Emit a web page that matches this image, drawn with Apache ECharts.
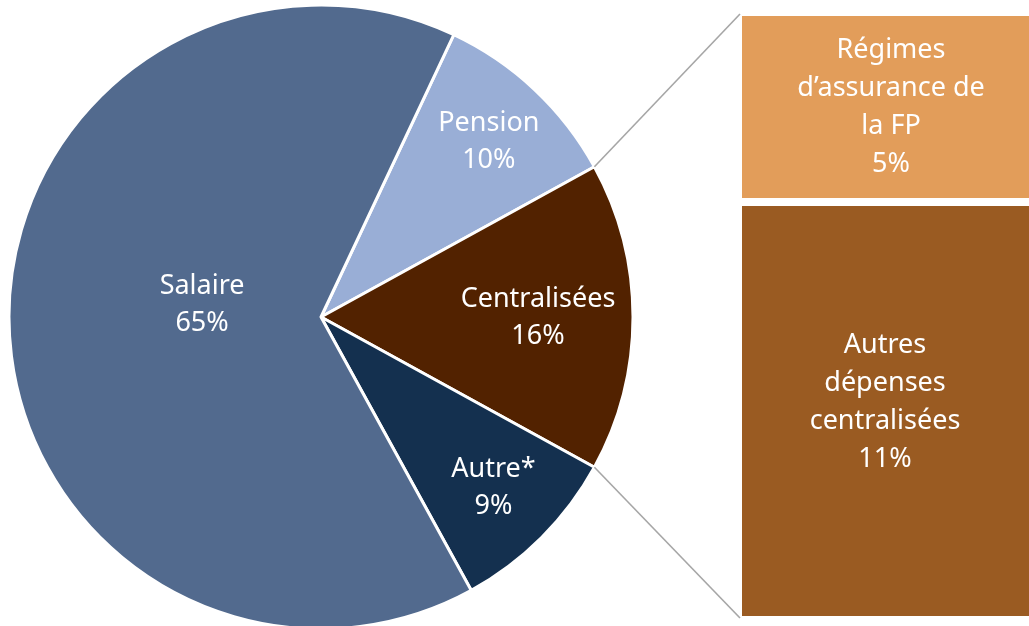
<!DOCTYPE html>
<html><head><meta charset="utf-8">
<script src="https://cdn.jsdelivr.net/npm/echarts@6/dist/echarts.min.js"></script>
<style>html,body{margin:0;padding:0;background:#fff}#c{width:1029px;height:626px}</style>
</head><body><div id="c"></div>
<script>
// ---- data ----
const pieNames = ['Pension', 'Centralisées', 'Autre*', 'Salaire'];
const pieValues = [10, 16, 9, 65];
const barNames = ['Régimes\nd’assurance de\nla FP', 'Autres\ndépenses\ncentralisées'];
const barValues = [5, 11];

// ---- style / layout ----
const pieColors = ['#99AED6', '#522200', '#14304F', '#526A8E'];
const barColors = ['#E29D5A', '#9A5B22'];
const labelOffsets = [[59, -59], [58, 1], [60, 58], [40, -17]];
const barLabelOffsets = [[1, 0], [-5, -9]];
const FONT = '"Noto Sans", "Open Sans", sans-serif';
const FS = 27, LH = 37;
const CX = 321, CY = 317, R = 312;
const GAP = 2; // half of white separator
const GRID = {left: 738, top: 12, right: -13, bottom: 6};

const total = pieValues.reduce((a, b) => a + b, 0);
const expIdx = 1; // exploded slice (Centralisées)
const before = pieValues.slice(0, expIdx).reduce((a, b) => a + b, 0);
const startAngle = (before + pieValues[expIdx] / 2) / total * 360;
const topAng = (startAngle - before / total * 360) * Math.PI / 180;
const botAng = (startAngle - (before + pieValues[expIdx]) / total * 360) * Math.PI / 180;

const chart = echarts.init(document.getElementById('c'), null, {renderer: 'canvas'});
const H = 626;
const barLeft = GRID.left + GAP, barTop = GRID.top + GAP, barBottom = H - GRID.bottom - GAP;

const barSeries = barValues.map((v, i) => ({
  type: 'bar', stack: 'b', barWidth: '100%',
  name: barNames[i],
  data: [v],
  emphasis: {disabled: true},
  itemStyle: {color: barColors[i], borderColor: '#ffffff', borderWidth: GAP * 2},
  label: {
    show: true, position: 'inside', color: '#ffffff', fontFamily: FONT, fontSize: FS, lineHeight: 38,
    offset: barLabelOffsets[i],
    formatter: p => barNames[i] + '\n' + v + '%'
  }
}));
// first item drawn on top: stack from bottom in reverse order
barSeries.reverse();

const lineStyle = {stroke: '#A6A6A6', lineWidth: 1.6};
chart.setOption({
  animation: false,
  backgroundColor: '#ffffff',
  textStyle: {fontFamily: FONT},
  grid: {left: GRID.left, top: GRID.top, right: GRID.right, bottom: GRID.bottom, outerBoundsMode: 'none', containLabel: false},
  xAxis: {type: 'category', data: ['x'], show: false},
  yAxis: {type: 'value', min: 0, max: barValues.reduce((a, b) => a + b, 0), show: false},
  series: [
    {
      type: 'pie',
      center: [CX, CY],
      radius: [0, R],
      startAngle: startAngle,
      clockwise: true,
      emphasis: {disabled: true},
      itemStyle: {borderColor: '#ffffff', borderWidth: 3},
      label: {
        position: 'inside', color: '#ffffff', fontFamily: FONT, fontSize: FS, lineHeight: LH,
        formatter: p => p.name + '\n' + p.value + '%'
      },
      labelLine: {show: false},
      data: pieNames.map((n, i) => ({
        name: n, value: pieValues[i],
        itemStyle: {color: pieColors[i]},
        label: {offset: labelOffsets[i]}
      }))
    },
    ...barSeries
  ],
  graphic: [
    {type: 'line', silent: true, z: 10, shape: {x1: CX + R * Math.cos(topAng), y1: CY - R * Math.sin(topAng), x2: barLeft, y2: barTop}, style: lineStyle},
    {type: 'line', silent: true, z: 10, shape: {x1: CX + R * Math.cos(botAng), y1: CY - R * Math.sin(botAng), x2: barLeft, y2: barBottom}, style: lineStyle}
  ]
});
</script></body></html>
